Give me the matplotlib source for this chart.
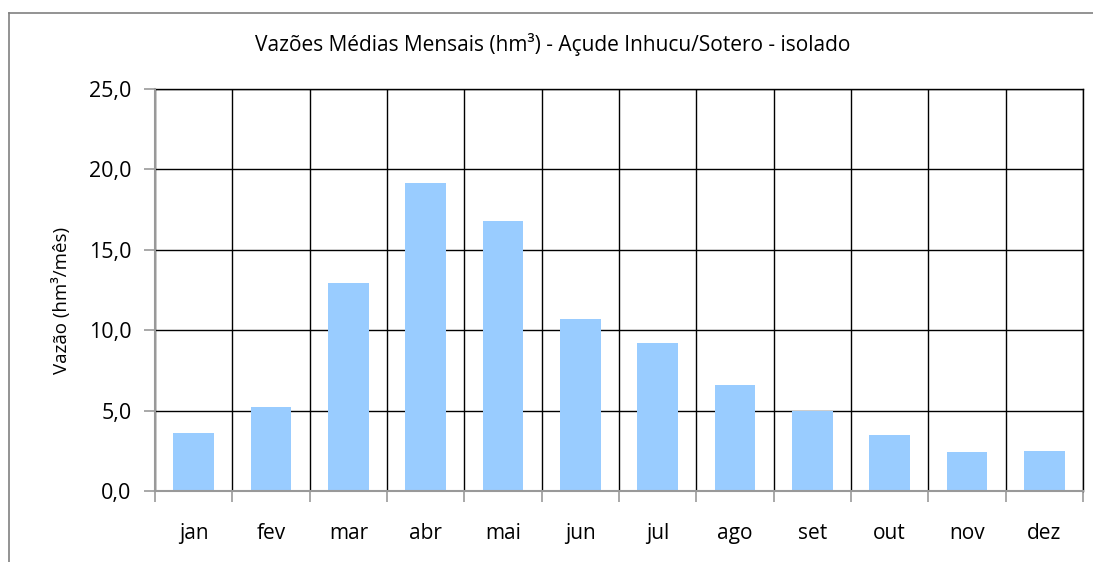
import numpy as np
import matplotlib.pyplot as plt
from matplotlib.lines import Line2D
from matplotlib.ticker import FuncFormatter, MultipleLocator

plt.rcParams['font.family'] = ['Open Sans', 'DejaVu Sans']

# Monthly mean inflows (hm³/month)
meses = ['jan', 'fev', 'mar', 'abr', 'mai', 'jun',
         'jul', 'ago', 'set', 'out', 'nov', 'dez']
vazoes = [3.6, 5.2, 12.95, 19.15, 16.8, 10.7, 9.2, 6.6, 5.0, 3.5, 2.4, 2.5]

titulo = 'Vazões Médias Mensais (hm³) - Açude Inhucu/Sotero - isolado'
rotulo_y = 'Vazão (hm³/mês)'

fig = plt.figure(figsize=(10.93, 5.62), dpi=100)
ax = fig.add_axes([155 / 1093, 71 / 562, 928 / 1093, 402 / 562])

x = np.arange(len(meses))
ax.bar(x, vazoes, width=0.53, color='#99CCFF', zorder=3)

ax.set_xlim(-0.5, len(meses) - 0.5)
ax.set_ylim(0, 25)

# category labels in the middle, tick marks on the boundaries
ax.set_xticks(x)
ax.set_xticklabels(meses, fontsize=15)
ax.tick_params(axis='x', which='major', length=0, pad=23)
ax.set_xticks(np.arange(len(meses) + 1) - 0.5, minor=True)
ax.tick_params(axis='x', which='minor', length=8, color='#999999', width=1.2,
               direction='out')

ax.yaxis.set_major_locator(MultipleLocator(5))
ax.yaxis.set_major_formatter(FuncFormatter(lambda v, p: f'{v:.1f}'.replace('.', ',')))
ax.tick_params(axis='y', labelsize=15.5, length=8, color='#999999', width=1.2, pad=9)

ax.grid(True, axis='y', which='major', color='black', linewidth=1, zorder=1)
ax.grid(True, axis='x', which='minor', color='black', linewidth=1, zorder=1)

for lado in ['top', 'right']:
    ax.spines[lado].set_color('black')
    ax.spines[lado].set_linewidth(1)
for lado in ['left', 'bottom']:
    ax.spines[lado].set_color('#999999')
    ax.spines[lado].set_linewidth(1.5)
    ax.spines[lado].set_zorder(4)

fig.text(61 / 1093, 1 - 300 / 562, rotulo_y, rotation=90,
         ha='center', va='center', fontsize=13.5)
fig.text(553 / 1093, 1 - 45 / 562, titulo, ha='center', va='center', fontsize=15)

# outer chart frame (top and left edges)
x0 = 9 / 1093
y0 = 1 - 13 / 562
fig.add_artist(Line2D([x0, 1], [y0, y0], transform=fig.transFigure, color='#808080', lw=1.2))
fig.add_artist(Line2D([x0, x0], [0, y0], transform=fig.transFigure, color='#808080', lw=1.2))

fig.savefig('out.png', dpi=100, facecolor='white')
